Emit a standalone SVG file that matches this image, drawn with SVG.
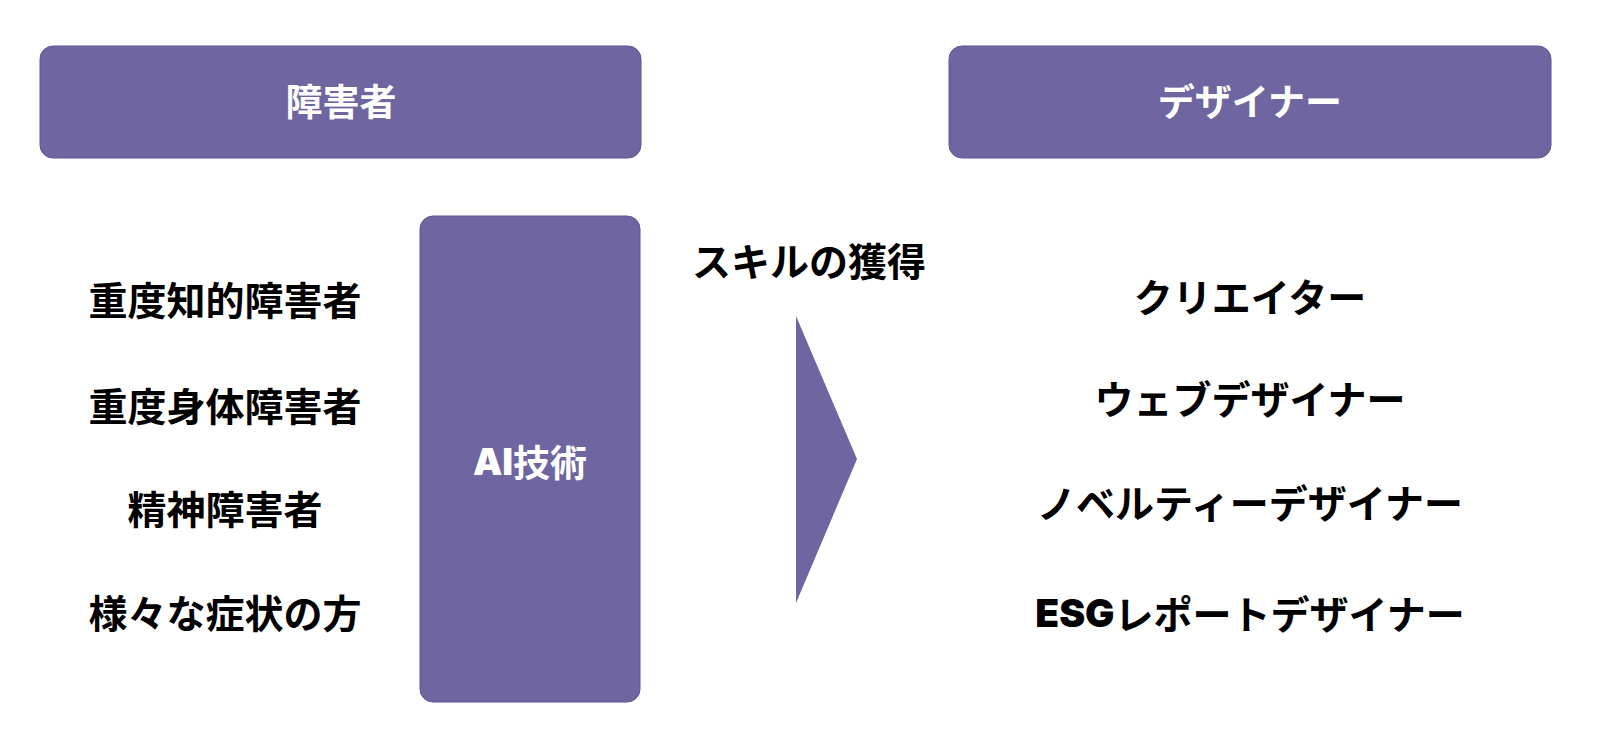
<svg xmlns="http://www.w3.org/2000/svg" width="1600" height="743" viewBox="0 0 1600 743">
<style>
.box{fill:#6E65A1;stroke:#5E549A;stroke-width:1}
.t{font-family:"Noto Sans CJK JP","Noto Sans",sans-serif;font-weight:700;text-anchor:middle;dominant-baseline:central}
.w{fill:#ffffff;font-size:37px}
.b{fill:#000000;font-size:39px}
.heavy{font-family:Inter,"Liberation Sans",sans-serif;font-weight:900}
</style>
<rect width="1600" height="743" fill="#ffffff"/>
<g id="node-shogaisha">
<rect class="box" x="40" y="46" width="601" height="112" rx="13"/>
<text class="t w" x="341" y="100">障害者</text>
</g>
<g id="node-designer">
<rect class="box" x="949" y="46" width="602" height="112" rx="13"/>
<text class="t w" x="1250" y="100">デザイナー</text>
</g>
<g id="node-ai">
<rect class="box" x="420" y="216" width="220" height="486" rx="13"/>
<text class="t w" x="530" y="461"><tspan class="heavy">AI</tspan>技術</text>
</g>
<g id="node-left-list">
<text class="t b" x="225" y="298">重度知的障害者</text>
<text class="t b" x="225" y="404">重度身体障害者</text>
<text class="t b" x="225" y="507">精神障害者</text>
<text class="t b" x="225" y="611">様々な症状の方</text>
</g>
<g id="node-right-list">
<text class="t b" x="1250" y="295">クリエイター</text>
<text class="t b" x="1250" y="397">ウェブデザイナー</text>
<text class="t b" x="1250" y="501">ノベルティーデザイナー</text>
<text class="t b" x="1250" y="612"><tspan class="heavy">ESG</tspan>レポートデザイナー</text>
</g>
<g id="connectors">
<text class="t b" x="809" y="259">スキルの獲得</text>
<polygon points="796,316 857,459 796,603" fill="#6E65A1"/>
</g>
</svg>
